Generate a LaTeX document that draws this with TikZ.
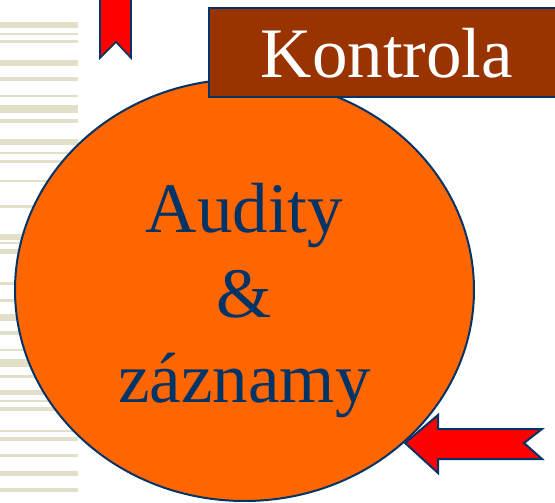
\documentclass[tikz,border=0pt]{standalone}
\usepackage{fontspec}
\setmainfont{Liberation Serif}
\usetikzlibrary{shapes.geometric}
\definecolor{navy}{HTML}{003366}
\definecolor{orng}{HTML}{FF6600}
\definecolor{brwn}{HTML}{993300}
\definecolor{stripe}{RGB}{226,224,200}
\tikzset{
  stripebar/.style={fill=stripe, draw=none},
  shapeline/.style={draw=navy, line width=2pt, line join=miter},
  bigtext/.style={font=\fontsize{71}{85}\selectfont, inner sep=0pt, anchor=base}
}
\begin{document}
\begin{tikzpicture}[x=1pt,y=-1pt]
\useasboundingbox (0,0) rectangle (555,503);
\clip (0,0) rectangle (555,503);
% left stripes
\foreach \a/\b in {22/28,33/35,40/43,60/66,77/81,95/97,105/113,119/123,139/145,152/154,160/163,180/182,205/208,234/240,242/244,249/254,282/285,299/302,314/321,331/335,349/351,359/367,375/378,390/395,400/402,407/411,430/432,437/441,454/457,471/476,488/492}
  \fill[stripebar] (0,\a) rectangle (78,\b);
% ribbon
\draw[shapeline, fill=red, line width=1.6pt] (100,-5) -- (131,-5) -- (131,58) -- (116,42) -- (100,58) -- cycle;
% ellipse
\node[ellipse, shapeline, fill=orng, minimum width=459pt, minimum height=422pt, inner sep=0pt] (circ) at (244.5,290) {};
% text
\node[bigtext, text=navy] (t1) at (244.5,232) {Audity};
\node[bigtext, text=navy] (t2) at (244.5,317) {\&};
\node[bigtext, text=navy] (t3) at (244.5,402) {záznamy};
% Kontrola box
\draw[shapeline, fill=brwn] (209,8) rectangle (565,97);
\node[bigtext, text=white] (title) at (387,78) {Kontrola};
% arrow
\draw[shapeline, fill=red] (405,443) -- (438,415) -- (438,429) -- (542,429) -- (524,443) -- (542,459) -- (438,459) -- (438,473) -- cycle;
\end{tikzpicture}
\end{document}
